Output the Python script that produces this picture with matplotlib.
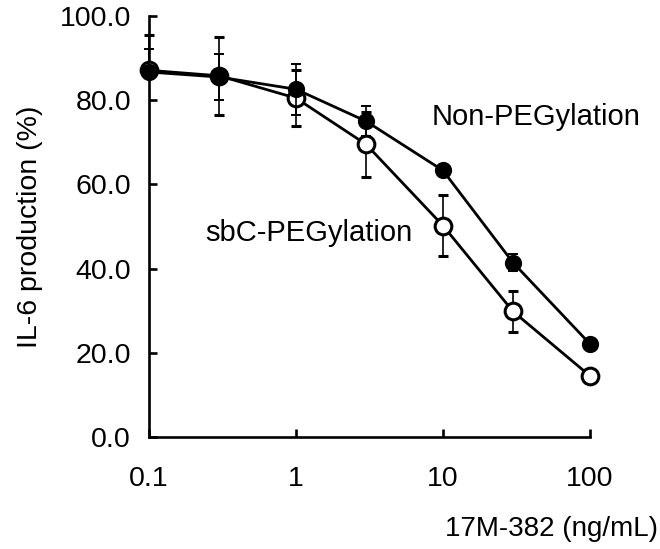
import numpy as np
import matplotlib
matplotlib.use("Agg")
import matplotlib.pyplot as plt

plt.rcParams['font.family'] = ['Liberation Sans', 'DejaVu Sans']

# concentration of 17M-382 (ng/mL)
conc = [0.1, 0.3, 1, 3, 10, 30, 100]

# IL-6 production (%) and error bars (lower, upper)
non_peg = [86.7, 85.5, 82.6, 75.0, 63.3, 41.4, 22.1]
non_peg_err_lo = [1.0, 5.5, 6.1, 3.6, 1.0, 2.0, 0.8]
non_peg_err_hi = [5.4, 5.5, 6.1, 3.6, 1.0, 2.0, 0.8]
sbc_peg = [87.1, 85.8, 80.5, 69.5, 50.2, 29.8, 14.5]
sbc_peg_err_lo = [1.0, 9.3, 6.6, 7.8, 7.3, 4.9, 0.8]
sbc_peg_err_hi = [8.5, 9.3, 6.6, 7.8, 7.3, 4.9, 0.8]

y_ticks = [0, 20, 40, 60, 80, 100]
x_ticks = [0.1, 1, 10, 100]
x_tick_labels = ['0.1', '1', '10', '100']

fig = plt.figure(figsize=(6.6, 5.49), dpi=100)
ax = fig.add_axes([0.2258, 0.2042, 0.668, 0.7666])

# open circles first, filled ones on top
ax.errorbar(conc, sbc_peg, yerr=[sbc_peg_err_lo, sbc_peg_err_hi],
            color='black', lw=2.0, elinewidth=1.2, capsize=3.6, capthick=1.2,
            marker='o', ms=12, mfc='white', mec='black', mew=2.2,
            zorder=3, clip_on=False)
ax.errorbar(conc, non_peg, yerr=[non_peg_err_lo, non_peg_err_hi],
            color='black', lw=2.0, elinewidth=1.2, capsize=3.6, capthick=1.2,
            marker='o', ms=11, mfc='black', mec='black', mew=1.4,
            zorder=4, clip_on=False)

ax.set_xscale('log')
ax.set_xlim(0.1, 100)
ax.set_ylim(0, 100)
ax.set_xticks(x_ticks)
ax.set_xticklabels(x_tick_labels)
ax.xaxis.set_minor_locator(matplotlib.ticker.NullLocator())
ax.set_yticks(y_ticks)
ax.set_yticklabels([f'{v:.1f}' for v in y_ticks])

for s in ['top', 'right']:
    ax.spines[s].set_visible(False)
for s in ['left', 'bottom']:
    ax.spines[s].set_linewidth(1.9)

ax.tick_params(axis='both', direction='in', length=6, width=1.9,
               labelsize=20.5)
ax.tick_params(axis='x', pad=21)
ax.tick_params(axis='y', pad=13)

ax.set_ylabel('IL-6 production (%)', fontsize=20.5, labelpad=12)
fig.text(0.997, 0.036, '17M-382 (ng/mL)', fontsize=20,
         ha='right', va='center')

ax.text(8.4, 76.0, 'Non-PEGylation', fontsize=21, va='center', ha='left')
ax.text(0.24, 48.5, 'sbC-PEGylation', fontsize=21, va='center', ha='left')

fig.savefig('out.png', dpi=100)
